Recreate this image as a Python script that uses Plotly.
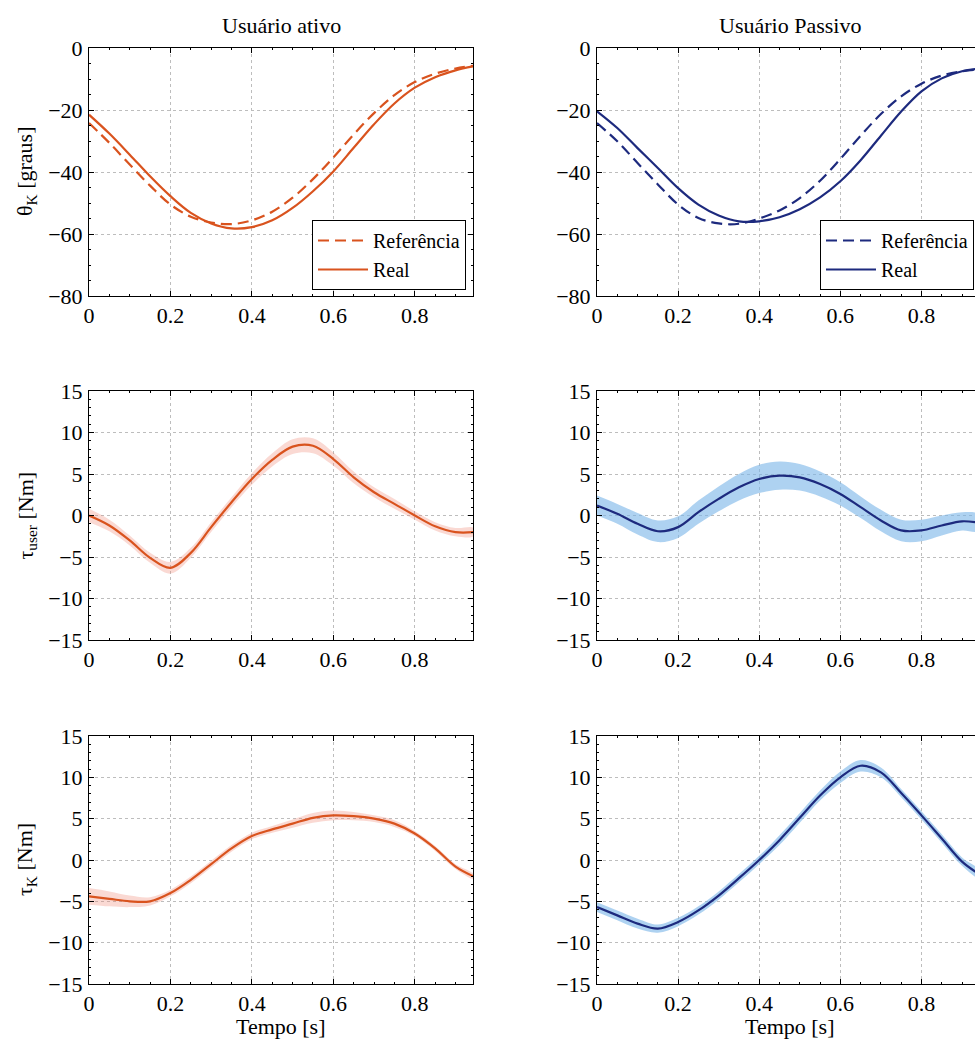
import plotly.graph_objects as go

# ---------------- data ----------------
t = [0.0, 0.05, 0.1, 0.15, 0.2, 0.25, 0.3, 0.35, 0.4, 0.45, 0.5,
     0.55, 0.6, 0.65, 0.7, 0.75, 0.8, 0.85, 0.9, 0.945]

theta_ref_ativo = [-24.2, -30.6, -37.6, -44.4, -50.5, -54.4, -56.3, -56.8, -55.6, -52.8,
                   -48.3, -42.3, -35.3, -27.9, -21.0, -15.2, -11.0, -8.3, -6.6, -5.7]
theta_real_ativo = [-21.5, -27.6, -34.4, -41.4, -47.8, -53.2, -56.6, -58.2, -57.8, -55.6,
                    -51.6, -46.2, -39.8, -32.2, -24.6, -17.9, -12.8, -9.4, -7.2, -5.9]
theta_ref_passivo = [-24.2, -30.1, -37.1, -44.0, -50.5, -54.8, -56.6, -56.7, -55.0, -52.4,
                     -48.4, -42.8, -35.8, -28.3, -21.3, -15.6, -11.5, -8.9, -7.5, -6.9]
theta_real_passivo = [-20.4, -25.8, -32.3, -38.7, -45.2, -50.5, -54.0, -55.9, -55.9, -54.6,
                      -52.0, -48.2, -43.0, -36.2, -28.3, -20.5, -14.0, -9.8, -7.5, -6.6]

tuser_ativo = [0.0, -1.2, -3.0, -5.1, -6.3, -4.5, -1.4, 1.6, 4.4, 6.7,
               8.3, 8.4, 6.8, 4.6, 2.8, 1.4, 0.0, -1.3, -2.0, -2.0]
tuser_ativo_sd = [0.8, 0.7, 0.6, 0.6, 0.7, 0.6, 0.6, 0.6, 0.7, 0.8,
                  0.9, 0.9, 0.8, 0.7, 0.6, 0.6, 0.5, 0.5, 0.5, 0.5]
tuser_passivo = [1.2, 0.2, -1.0, -1.9, -1.4, 0.4, 2.0, 3.4, 4.4, 4.8,
                 4.6, 3.8, 2.6, 1.0, -0.6, -1.8, -1.8, -1.2, -0.7, -0.9]
tuser_passivo_sd = [1.2, 1.2, 1.3, 1.3, 1.3, 1.4, 1.5, 1.6, 1.7, 1.7,
                    1.6, 1.5, 1.4, 1.3, 1.3, 1.3, 1.3, 1.2, 1.1, 1.0]

tauK_ativo = [-4.4, -4.7, -5.0, -5.0, -4.0, -2.4, -0.5, 1.4, 2.9, 3.7,
              4.4, 5.1, 5.4, 5.3, 5.0, 4.4, 3.2, 1.4, -0.8, -2.0]
tauK_ativo_sd = [1.0, 0.9, 0.7, 0.5, 0.4, 0.4, 0.4, 0.4, 0.4, 0.4,
                 0.5, 0.6, 0.6, 0.5, 0.4, 0.4, 0.3, 0.3, 0.3, 0.3]
tauK_passivo = [-5.7, -6.7, -7.7, -8.3, -7.5, -6.1, -4.3, -2.2, 0.0, 2.4,
                5.1, 7.8, 10.0, 11.4, 10.6, 8.1, 5.4, 2.6, -0.2, -1.8]
tauK_passivo_sd = [0.6, 0.6, 0.6, 0.5, 0.5, 0.5, 0.5, 0.5, 0.5, 0.6,
                   0.6, 0.6, 0.7, 0.7, 0.6, 0.5, 0.5, 0.5, 0.5, 0.5]

col_titles = ["Usuário ativo", "Usuário Passivo"]
y_titles = ["θ<sub>K</sub> [graus]", "τ<sub>user</sub> [Nm]", "τ<sub>K</sub> [Nm]"]
x_title = "Tempo [s]"
legend_names = ["Referência", "Real"]

# ---------------- style ----------------
W, H = 975, 1039
ORANGE = "#D9531E"
ORANGE_BAND = "rgba(240,130,110,0.30)"
BLUE = "#1D2A7E"
BLUE_BAND = "rgba(120,180,232,0.60)"
FONT = "Liberation Serif, Times New Roman, serif"
FS = 22

col_px = [(89, 473), (597, 975)]
row_px = [(48, 296), (391, 640), (736, 984)]
x_ranges = [[0, 0.943], [0, 0.932]]
y_ranges = [[-80, 0], [-15, 15], [-15, 15]]
y_dticks = [20, 5, 5]
y_minor = [5, 1, 1]

fig = go.Figure()


def ax_id(r, c):
    return r * 2 + c + 1


def band(k, y, sd, color):
    up = [a + b for a, b in zip(y, sd)]
    lo = [a - b for a, b in zip(y, sd)]
    fig.add_trace(go.Scatter(
        x=t + t[::-1], y=up + lo[::-1], fill="toself", fillcolor=color,
        line=dict(width=0, shape="spline"), mode="lines", hoverinfo="skip",
        showlegend=False, xaxis=f"x{k}", yaxis=f"y{k}"))


def line(k, y, color, dash="solid", name=None, legend=None):
    fig.add_trace(go.Scatter(
        x=t, y=y, mode="lines", name=name,
        line=dict(color=color, width=2.2, dash=dash, shape="spline"),
        showlegend=name is not None, legend=legend,
        xaxis=f"x{k}", yaxis=f"y{k}"))


# row 1
line(1, theta_ref_ativo, ORANGE, "11px,6px", legend_names[0], "legend")
line(1, theta_real_ativo, ORANGE, "solid", legend_names[1], "legend")
line(2, theta_ref_passivo, BLUE, "11px,6px", legend_names[0], "legend2")
line(2, theta_real_passivo, BLUE, "solid", legend_names[1], "legend2")
# row 2
band(3, tuser_ativo, tuser_ativo_sd, ORANGE_BAND)
line(3, tuser_ativo, ORANGE)
band(4, tuser_passivo, tuser_passivo_sd, BLUE_BAND)
line(4, tuser_passivo, BLUE)
# row 3
band(5, tauK_ativo, tauK_ativo_sd, ORANGE_BAND)
line(5, tauK_ativo, ORANGE)
band(6, tauK_passivo, tauK_passivo_sd, BLUE_BAND)
line(6, tauK_passivo, BLUE)

layout = dict(
    width=W, height=H,
    margin=dict(l=0, r=0, t=0, b=0, autoexpand=False),
    paper_bgcolor="white", plot_bgcolor="white",
    font=dict(family=FONT, size=FS, color="black"),
    showlegend=True,
)

for r in range(3):
    for c in range(2):
        k = ax_id(r, c)
        x0, x1 = col_px[c]
        y0, y1 = row_px[r]
        xname = "xaxis" if k == 1 else f"xaxis{k}"
        yname = "yaxis" if k == 1 else f"yaxis{k}"
        layout[xname] = dict(
            domain=[x0 / W, x1 / W], anchor=f"y{k}", range=x_ranges[c],
            dtick=0.2, tick0=0, tickformat=".1~f", automargin=False,
            showline=True, linecolor="black", linewidth=1, mirror="ticks",
            ticks="inside", ticklen=5, tickcolor="black",
            minor=dict(ticks="inside", ticklen=2, dtick=0.05, tickcolor="black"),
            showgrid=True, gridcolor="#bdbdbd", griddash="dot", gridwidth=1,
            zeroline=False, tickfont=dict(family=FONT, size=FS, color="black"),
            fixedrange=True,
        )
        layout[yname] = dict(
            domain=[1 - y1 / H, 1 - y0 / H], anchor=f"x{k}", range=y_ranges[r],
            dtick=y_dticks[r], tick0=0, automargin=False,
            showline=True, linecolor="black", linewidth=1,
            mirror="ticks" if c == 0 else False,
            ticks="inside", ticklen=5, tickcolor="black",
            minor=dict(ticks="inside", ticklen=2, dtick=y_minor[r], tickcolor="black"),
            showgrid=True, gridcolor="#bdbdbd", griddash="dot", gridwidth=1,
            zeroline=False, tickfont=dict(family=FONT, size=FS, color="black"),
            ticklabelstandoff=1, fixedrange=True,
        )

annotations = []
for c in range(2):
    xc = (col_px[0][0] + col_px[0][1]) / 2 if c == 0 else 790
    annotations.append(dict(text=col_titles[c], x=xc / W, y=1 - 25 / H, xref="paper",
                            yref="paper", showarrow=False, xanchor="center", yanchor="middle",
                            font=dict(family=FONT, size=FS, color="black")))
    annotations.append(dict(text=x_title, x=xc / W, y=1 - 1026 / H, xref="paper",
                            yref="paper", showarrow=False, xanchor="center", yanchor="middle",
                            font=dict(family=FONT, size=FS, color="black")))
for r in range(3):
    yc = (row_px[r][0] + row_px[r][1]) / 2
    annotations.append(dict(text=y_titles[r], x=26 / W, y=1 - yc / H, xref="paper",
                            yref="paper", showarrow=False, textangle=-90,
                            xanchor="center", yanchor="middle",
                            font=dict(family=FONT, size=FS, color="black")))
layout["annotations"] = annotations

leg_common = dict(bgcolor="white", bordercolor="black", borderwidth=1,
                  font=dict(family=FONT, size=20, color="black"),
                  xanchor="right", yanchor="bottom", y=1 - 290 / H,
                  tracegroupgap=0, itemwidth=50)
layout["legend"] = dict(x=466 / W, **leg_common)
layout["legend2"] = dict(x=974 / W, **leg_common)

fig.update_layout(**layout)
fig.write_html("out.html")
